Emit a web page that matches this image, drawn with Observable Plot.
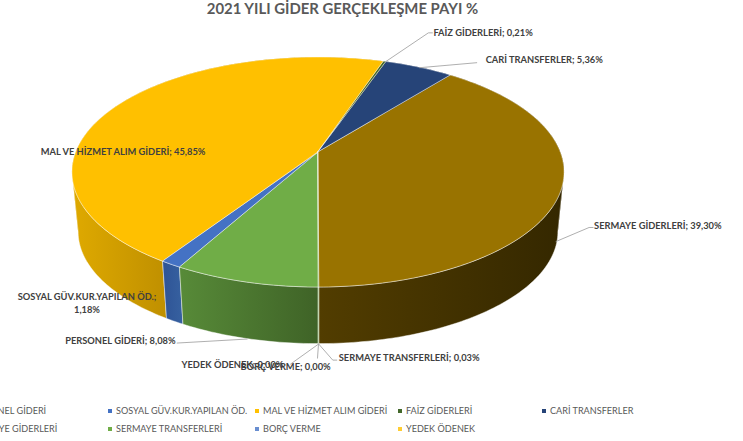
<!DOCTYPE html>
<html lang="tr">
<head>
<meta charset="utf-8">
<script src="https://cdn.jsdelivr.net/npm/d3@7"></script>
<script src="https://cdn.jsdelivr.net/npm/@observablehq/plot@0.6"></script>
<style>
  html, body { margin: 0; padding: 0; background: #fff; width: 743px; height: 441px; overflow: hidden; font-family: Lato, "Noto Sans", sans-serif; }
  #title { height: 18px; line-height: 17px; width: 685px; text-align: center; font-weight: 700; font-size: 14.9px; color: #595959; white-space: nowrap; }
  #chart svg { display: block; }
  #legend { display: grid; grid-template-columns: 147px 147px 143px 144px 144px; grid-auto-rows: 18px; margin: 8px 0 0 -39px; font-size: 9.1px; color: #595959; width: 800px; }
  #legend div { display: flex; align-items: center; white-space: nowrap; line-height: 18px; }
  #legend i { display: inline-block; width: 3.5px; height: 3.5px; margin-right: 4.5px; flex: none; }
</style>
</head>
<body>
<div id="title">2021 YILI GİDER GERÇEKLEŞME PAYI %</div>
<div id="chart"></div>
<div id="legend"></div>
<script>
// ---- chart values ----
const categories = ["PERSONEL GİDERİ", "SOSYAL GÜV.KUR.YAPILAN ÖD.", "MAL VE HİZMET ALIM GİDERİ", "FAİZ GİDERLERİ", "CARİ TRANSFERLER", "SERMAYE GİDERLERİ", "SERMAYE TRANSFERLERİ", "BORÇ VERME", "YEDEK ÖDENEK"];
const shares = [8.08, 1.18, 45.85, 0.21, 5.36, 39.30, 0.03, 0, 0];

// ---- styles ----
const topColors = ["#70ad47", "#4472c4", "#ffc000", "#43682b", "#264478", "#997300", "#70ad47", "#698ed0", "#ffc000"];
const legendColors = ["#70ad47", "#4472c4", "#ffc000", "#43682b", "#264478", "#997300", "#70ad47", "#698ed0", "#ffcd33"];
const wallStops = [["#578a38", "#3f6327", 181, 318], ["#2f5597", "#36609f", 165, 181], ["#dda800", "#c09000", 78, 165], ["#43682b", "#43682b", 380, 390], ["#1c3359", "#1c3359", 390, 450], ["#523d00", "#352800", 318, 558], ["#70ad47", "#70ad47", 318, 320], ["#698ed0", "#698ed0", 318, 320], ["#ffc000", "#ffc000", 318, 320]];

// ---- pie geometry: a tilted disc seen in perspective ----
const startAngle = 180, cx = 318, cyTop = 152, cyBottom = 212, bottomScale = 0.975;
const persp = 0.174, radX = 242.3, radY = 111.5;
const silhouette = [260, 460]; // where the wall turns from the front of the pie to the back
function project(angle, bottom = false) {
  const t = angle * Math.PI / 180, u = Math.sin(t), v = -Math.cos(t), d = 1 - persp * v, s = bottom ? bottomScale : 1;
  return {x: cx + s * radX * u / d, y: (bottom ? cyBottom : cyTop) + s * radY * v / d};
}
function arcPoints(a0, a1) {
  const steps = Math.max(1, Math.ceil(a1 - a0));
  return d3.range(steps + 1).map(k => {
    const a = a0 + (a1 - a0) * k / steps, p = project(a), q = project(a, true);
    return {x: p.x, y: p.y, bx: q.x, by: q.y};
  });
}
const total = d3.sum(shares);
let cursor = startAngle;
const slices = categories.map((name, i) => {
  const a0 = cursor, a1 = cursor + shares[i] / total * 360;
  cursor = a1;
  return {name, value: shares[i], i, a0, a1, mid: (a0 + a1) / 2, arc: arcPoints(a0, a1)};
});
const fmt = v => v.toFixed(2).replace(".", ",") + "%";

// ---- label placement relative to each slice's anchor on the rim ----
// wall: 0 = top rim, 1 = bottom rim; at: text offset; leader: offsets of the leader-line bends
const placement = {
  "PERSONEL GİDERİ": {wall: 1, at: [-182, 1], leader: [[-70, 4]]},
  "SOSYAL GÜV.KUR.YAPILAN ÖD.": {wall: 0, at: [-84, 38], anchor: "middle", wrap: true},
  "MAL VE HİZMET ALIM GİDERİ": {wall: 0, at: [-75, 44]},
  "FAİZ GİDERLERİ": {wall: 0, at: [48, -30], leader: [[43, -29], [47, -29]]},
  "CARİ TRANSFERLER": {wall: 0, at: [66, -9], leader: [[57, -5]]},
  "SERMAYE GİDERLERİ": {wall: 0.85, at: [38, -17], leader: [[33, -14], [37, -14]]},
  "SERMAYE TRANSFERLERİ": {wall: 1, at: [20, 13], leader: [[14, 16], [18, 16]]},
  "BORÇ VERME": {wall: 1, at: [-78, 22], leader: [[-1, 14]]},
  "YEDEK ÖDENEK": {wall: 1, at: [-137, 20], leader: [[-28, 20]]}
};
const anchorOf = s => {
  const w = placement[s.name].wall, p = project(s.mid), q = project(s.mid, true);
  return {x: p.x + (q.x - p.x) * w, y: p.y + (q.y - p.y) * w};
};
const labels = slices.map(s => {
  const pl = placement[s.name], A = anchorOf(s);
  return {
    text: s.name + ";" + (pl.wrap ? "\n" : " ") + fmt(s.value),
    x: A.x + pl.at[0], y: A.y + pl.at[1], anchor: pl.anchor || "start"
  };
});
const leaders = slices.flatMap(s => {
  const pl = placement[s.name], A = anchorOf(s);
  return pl.leader ? [{name: s.name, x: A.x, y: A.y}, ...pl.leader.map(([dx, dy]) => ({name: s.name, x: A.x + dx, y: A.y + dy}))] : [];
});

// ---- walls: back pieces first, then the front, then the top face ----
const gradients = (index, {x}) => {
  const defs = d3.create("svg:defs");
  wallStops.forEach(([c0, c1, x0, x1], i) => {
    const g = defs.append("linearGradient").attr("id", "wall" + i).attr("gradientUnits", "userSpaceOnUse")
      .attr("x1", x(x0)).attr("x2", x(x1)).attr("y1", 0).attr("y2", 0);
    g.append("stop").attr("offset", 0).attr("stop-color", c0);
    g.append("stop").attr("offset", 1).attr("stop-color", c1);
  });
  return defs.node();
};
const isFront = a => a < silhouette[0] || a > silhouette[1];
const wallPieces = slices.filter(s => s.value > 0).flatMap(s => {
  const cuts = [s.a0, ...silhouette.filter(c => c > s.a0 && c < s.a1), s.a1];
  return d3.pairs(cuts).map(([a, b]) => ({i: s.i, front: isFront((a + b) / 2), arc: arcPoints(a, b)}));
});
const wallMarks = d3.sort(wallPieces, p => p.front).map(p => Plot.area(p.arc, {
  x1: "x", y1: "y", x2: "bx", y2: "by", fill: "url(#wall" + p.i + ")", stroke: "#ffffff", strokeOpacity: p.front ? 0.55 : 0, strokeWidth: 0.8
}));
const topMarks = slices.filter(s => s.value > 0).map(s => Plot.area(s.arc, {
  x1: () => cx, y1: () => cyTop, x2: "x", y2: "y", fill: topColors[s.i], stroke: "#ffffff", strokeOpacity: 0.55, strokeWidth: 0.8
}));

const labelStyle = {x: "x", y: "y", text: "text", lineAnchor: "middle", fontFamily: "Lato, 'Noto Sans', sans-serif", fontSize: 9.3, fontWeight: 700, fill: "#404040", lineHeight: 1.38};

const chart = Plot.plot({
  width: 743, height: 376,
  margin: 0,
  x: {domain: [0, 743], range: [0, 743], axis: null},
  y: {domain: [18, 394], range: [0, 376], axis: null},
  marks: [
    gradients,
    ...wallMarks,
    ...topMarks,
    Plot.line(leaders, {x: "x", y: "y", z: "name", stroke: "#a6a6a6", strokeWidth: 0.9}),
    Plot.text(labels.filter(d => d.anchor === "start"), {...labelStyle, textAnchor: "start"}),
    Plot.text(labels.filter(d => d.anchor === "middle"), {...labelStyle, textAnchor: "middle"})
  ]
});
chart.style.background = "transparent";
document.getElementById("chart").append(chart);

const legend = d3.select("#legend");
categories.forEach((name, i) => {
  const row = legend.append("div");
  row.append("i").style("background", legendColors[i]);
  row.append("span").text(name);
});
</script>
</body>
</html>
